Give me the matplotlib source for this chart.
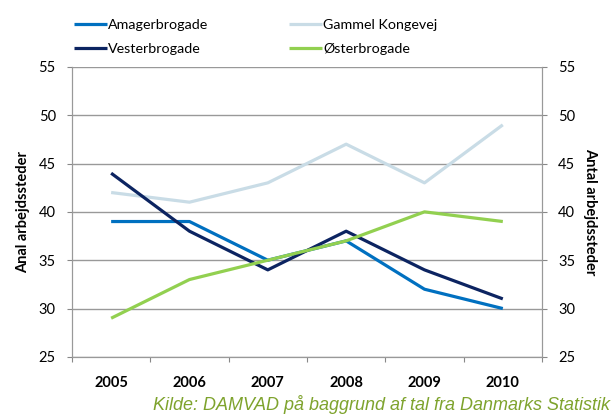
import matplotlib
matplotlib.use("Agg")
import matplotlib.pyplot as plt

years = ["2005", "2006", "2007", "2008", "2009", "2010"]
amagerbrogade = [39, 39, 35, 37, 32, 30]
gammel_kongevej = [42, 41, 43, 47, 43, 49]
vesterbrogade = [44, 38, 34, 38, 34, 31]
oesterbrogade = [29, 33, 35, 37, 40, 39]
y_ticks = [25, 30, 35, 40, 45, 50, 55]

font = ["Lato", "DejaVu Sans"]
plt.rcParams["font.family"] = font

fig = plt.figure(figsize=(6.12, 4.15), dpi=100)
ax = fig.add_axes([0.1176, 0.140, 0.768, 0.699])

x = list(range(len(years)))
lw = 2.3
l1, = ax.plot(x, amagerbrogade, color="#0070C0", lw=lw, label="Amagerbrogade")
l2, = ax.plot(x, gammel_kongevej, color="#C9DCE6", lw=lw, label="Gammel Kongevej")
l3, = ax.plot(x, vesterbrogade, color="#0C2461", lw=lw, label="Vesterbrogade")
l4, = ax.plot(x, oesterbrogade, color="#92D050", lw=lw, label="Østerbrogade")
for l in (l1, l2, l3, l4):
    l.set_solid_capstyle("butt")

ax.set_xlim(-0.5, 5.5)
ax.set_ylim(25, 55)
ax.set_yticks(y_ticks)
ax.set_yticklabels([str(v) for v in y_ticks], fontsize=10.5)
ax.set_xticks([i - 0.5 for i in range(len(years) + 1)], minor=False)
ax.set_xticklabels([])
ax.set_xticks(x, minor=True)
ax.set_xticklabels(years, minor=True, fontsize=10.5, fontweight="bold")
ax.tick_params(axis="x", which="minor", length=0, pad=14)
ax.tick_params(axis="x", which="major", length=3.6, color="#888888", direction="out")
ax.tick_params(axis="y", length=3.6, color="#888888", direction="out", pad=8)
ax.grid(axis="y", color="#999999", lw=1)
ax.set_axisbelow(True)
for s in ax.spines.values():
    s.set_color("#999999")
ax.spines["top"].set_visible(False)

ax2 = ax.twinx()
ax2.set_ylim(25, 55)
ax2.set_yticks(y_ticks)
ax2.set_yticklabels([str(v) for v in y_ticks], fontsize=10.5)
ax2.tick_params(axis="y", length=3.6, color="#888888", direction="out", pad=8)
for s in ax2.spines.values():
    s.set_color("#999999")
ax2.spines["top"].set_visible(False)

ax.set_ylabel("Anal arbejdssteder", fontsize=10.5, fontweight="bold", labelpad=6)
ax2.set_ylabel("Antal arbejdssteder", fontsize=10.5, fontweight="bold", rotation=-90, labelpad=16)

fig.legend(handles=[l1, l3, l2, l4], ncol=2, loc="upper left",
           bbox_to_anchor=(0.100, 0.985), frameon=False, fontsize=10.3,
           handlelength=2.3, handletextpad=0.1, columnspacing=5.6,
           labelspacing=0.8)

fig.text(0.997, 0.003, "Kilde: DAMVAD på baggrund af tal fra Danmarks Statistik",
         ha="right", va="bottom", fontsize=13.0, style="italic",
         color="#7EA32D", family=["Liberation Sans", "DejaVu Sans"])

fig.savefig("out.png", dpi=100)
